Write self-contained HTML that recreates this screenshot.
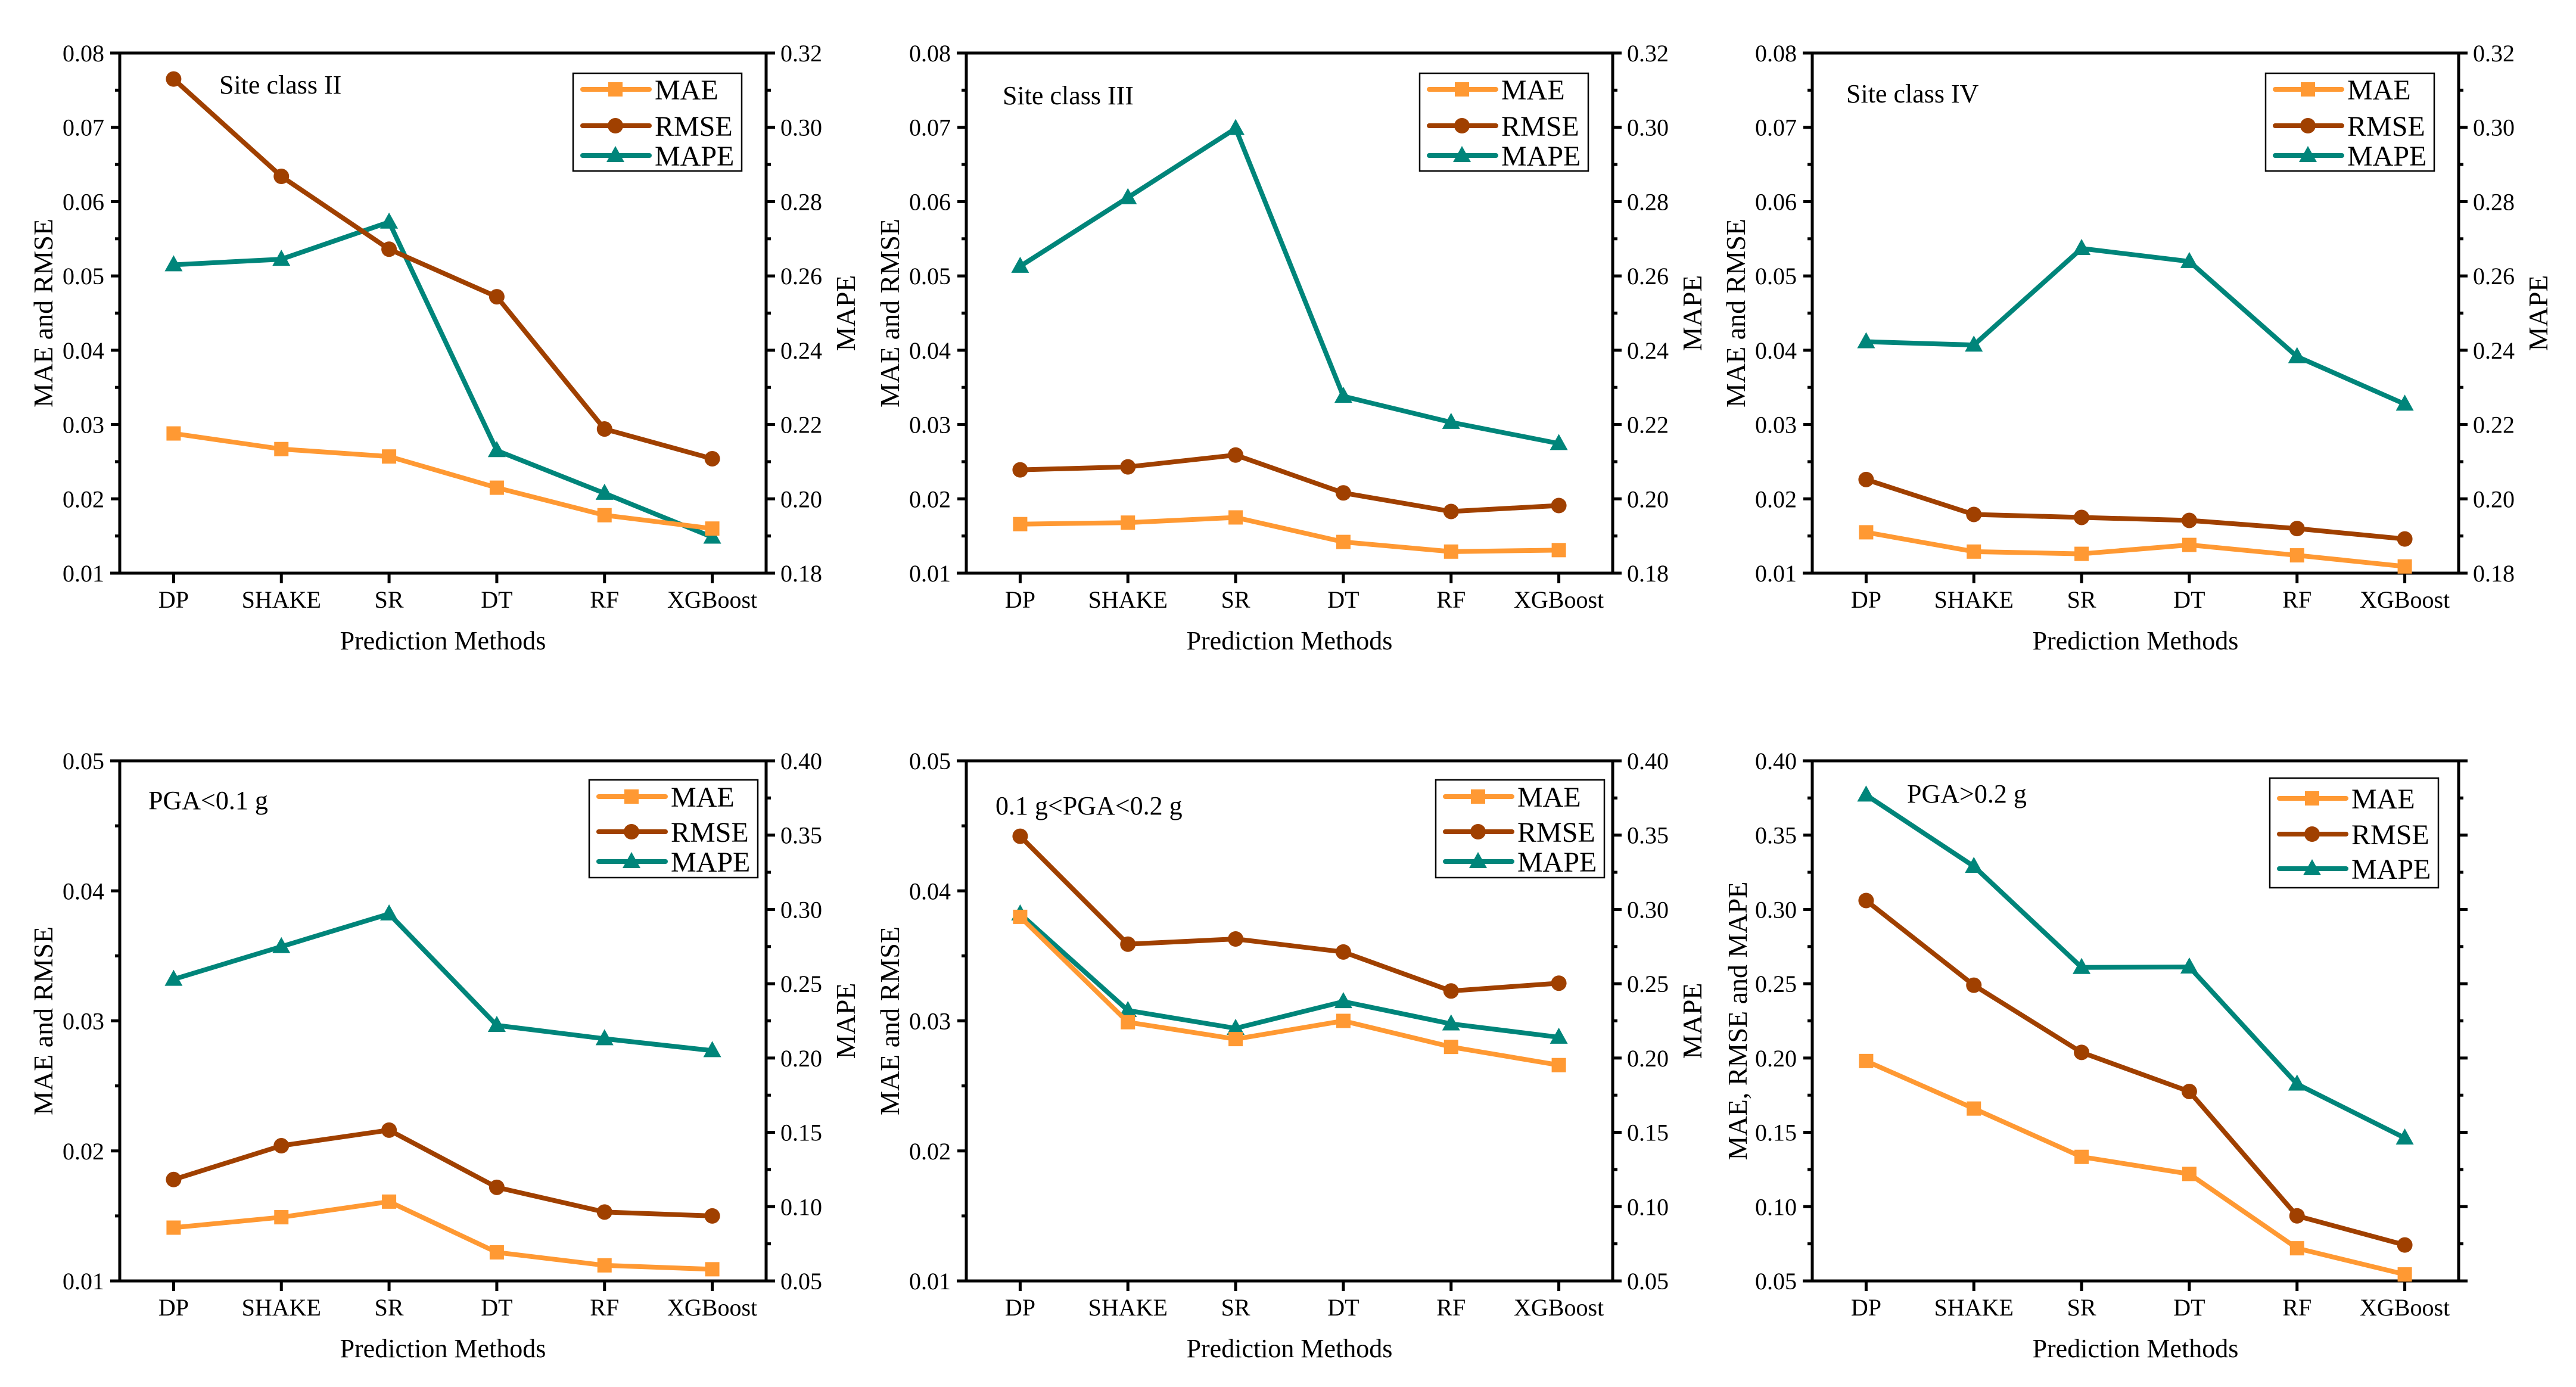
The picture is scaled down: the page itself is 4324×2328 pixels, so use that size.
<!DOCTYPE html>
<html><head><meta charset="utf-8"><title>Prediction method error metrics</title>
<style>html,body{margin:0;padding:0;background:#fff}svg{display:block}text{font-family:"Liberation Serif",serif;fill:#000}</style>
</head><body>
<svg id="fig" width="4324" height="2328" viewBox="0 0 4324 2328" xmlns="http://www.w3.org/2000/svg"></svg>
<script>
const categories = ["DP","SHAKE","SR","DT","RF","XGBoost"];
// Site class II
const p1MAE  = [0.0288,0.0267,0.0257,0.0215,0.0178,0.0160];
const p1RMSE = [0.0765,0.0634,0.0536,0.0472,0.0294,0.0254];
const p1MAPE = [0.263,0.2645,0.2745,0.213,0.2015,0.1897];
// Site class III
const p2MAE  = [0.0166,0.0168,0.0175,0.0142,0.0129,0.0131];
const p2RMSE = [0.0239,0.0243,0.0259,0.0208,0.0183,0.0191];
const p2MAPE = [0.2626,0.2811,0.2997,0.2276,0.2206,0.2149];
// Site class IV
const p3MAE  = [0.0155,0.0129,0.0126,0.0138,0.0124,0.0109];
const p3RMSE = [0.0226,0.0179,0.0175,0.0171,0.0160,0.0146];
const p3MAPE = [0.2423,0.2414,0.2674,0.2639,0.2383,0.2255];
// PGA<0.1 g
const p4MAE  = [0.0141,0.0149,0.0161,0.0122,0.0112,0.0109];
const p4RMSE = [0.0178,0.0204,0.0216,0.0172,0.0153,0.0150];
const p4MAPE = [0.253,0.275,0.297,0.222,0.213,0.205];
// 0.1 g<PGA<0.2 g
const p5MAE  = [0.0380,0.0299,0.0286,0.0300,0.0280,0.0266];
const p5RMSE = [0.0442,0.0359,0.0363,0.0353,0.0323,0.0329];
const p5MAPE = [0.297,0.232,0.220,0.238,0.223,0.214];
// PGA>0.2 g (single axis)
const p6MAE  = [0.198,0.166,0.1335,0.122,0.072,0.0544];
const p6RMSE = [0.306,0.249,0.2038,0.1775,0.0938,0.0742];
const p6MAPE = [0.377,0.329,0.261,0.2613,0.1825,0.1462];

const ticksA = ["0.01","0.02","0.03","0.04","0.05","0.06","0.07","0.08"];
const ticksB = ["0.18","0.20","0.22","0.24","0.26","0.28","0.30","0.32"];
const ticksC = ["0.01","0.02","0.03","0.04","0.05"];
const ticksD = ["0.05","0.10","0.15","0.20","0.25","0.30","0.35","0.40"];

const NS="http://www.w3.org/2000/svg";
const svg=document.getElementById('fig');
const C_MAE="#FF9933", C_RMSE="#A04000", C_MAPE="#00857A";
function el(tag,attrs,parent){const e=document.createElementNS(NS,tag);for(const k in attrs)e.setAttribute(k,attrs[k]);(parent||svg).appendChild(e);return e;}

const panels=[
 {left:201,top:89,title:"Site class II",tx:167,ty:68,L:ticksA,R:ticksB,d:[p1MAE,p1RMSE,p1MAPE],ly:"MAE and RMSE",ry:"MAPE",leg:{r:41,t:34,b:198,e:[61,122,172]}},
 {left:1622,top:89,title:"Site class III",tx:61,ty:86,L:ticksA,R:ticksB,d:[p2MAE,p2RMSE,p2MAPE],ly:"MAE and RMSE",ry:"MAPE",leg:{r:41,t:34,b:198,e:[61,122,172]}},
 {left:3042,top:89,title:"Site class IV",tx:57,ty:83,L:ticksA,R:ticksB,d:[p3MAE,p3RMSE,p3MAPE],ly:"MAE and RMSE",ry:"MAPE",leg:{r:41,t:34,b:198,e:[61,122,172]}},
 {left:201,top:1277,title:"PGA<0.1 g",tx:48,ty:81,L:ticksC,R:ticksD,d:[p4MAE,p4RMSE,p4MAPE],ly:"MAE and RMSE",ry:"MAPE",leg:{r:14,t:32,b:196,e:[60,119,169]}},
 {left:1622,top:1277,title:"0.1 g<PGA<0.2 g",tx:49,ty:90,L:ticksC,R:ticksD,d:[p5MAE,p5RMSE,p5MAPE],ly:"MAE and RMSE",ry:"MAPE",leg:{r:14,t:32,b:196,e:[60,119,169]}},
 {left:3042,top:1277,title:"PGA>0.2 g",tx:159,ty:70,L:ticksD,R:null,d:[p6MAE,p6RMSE,p6MAPE],ly:"MAE, RMSE and MAPE",ry:null,single:true,leg:{r:34,t:29,b:213,e:[63,123,181]}}
];
const W=1085,H=873;

function marker(g,kind,x,y,color){
  let m;
  if(kind===0) m=el('rect',{x:x-12,y:y-12,width:24,height:24,fill:color},g);
  else if(kind===1) m=el('circle',{cx:x,cy:y,r:13,fill:color},g);
  else m=el('polygon',{points:`${x},${y-16} ${x+15},${y+11} ${x-15},${y+11}`,fill:color},g);
  return m;
}

panels.forEach((p,pi)=>{
  const g=el('g',{});
  
  
  const L=p.left,T=p.top,Rt=L+W,B=T+H;
  const lmin=+p.L[0],lmax=+p.L[p.L.length-1];
  const yL=v=>B-(v-lmin)/(lmax-lmin)*H;
  let yR=yL;
  if(p.R){const rmin=+p.R[0],rmax=+p.R[p.R.length-1];yR=v=>B-(v-rmin)/(rmax-rmin)*H;}
  const xC=i=>L+W/6*(i+0.5);
  // frame
  const fr=el('path',{d:`M${L-16},${T} H${Rt+14} M${L},${T-2} V${B+2} M${Rt},${T-2} V${B+2} M${L-16},${B} H${Rt+14}`,stroke:'#000','stroke-width':5,fill:'none'},g);
  
  // left ticks
  const n=p.L.length-1;
  for(let i=0;i<=n;i++){
    const y=T+H*(n-i)/n;
    el('line',{x1:L-15,x2:L,y1:y,y2:y,stroke:'#000','stroke-width':5},g);
    if(i<n){const ym=y-H/n/2;el('line',{x1:L-8,x2:L,y1:ym,y2:ym,stroke:'#000','stroke-width':5},g);}
    const t=el('text',{x:L-26,y:y+14,'font-size':40,'text-anchor':'end'},g);t.textContent=p.L[i];
    
  }
  // right ticks
  const rl=p.R||p.L, m=rl.length-1;
  for(let i=0;i<=m;i++){
    const y=T+H*(m-i)/m;
    el('line',{x1:Rt,x2:Rt+15,y1:y,y2:y,stroke:'#000','stroke-width':5},g);
    if(i<m){const ym=y-H/m/2;el('line',{x1:Rt,x2:Rt+8,y1:ym,y2:ym,stroke:'#000','stroke-width':5},g);}
    if(p.R){const t=el('text',{x:Rt+24,y:y+14,'font-size':40},g);t.textContent=p.R[i];
      }
  }
  // x ticks
  categories.forEach((c,i)=>{
    el('line',{x1:xC(i),x2:xC(i),y1:B,y2:B+17,stroke:'#000','stroke-width':5},g);
    const t=el('text',{x:xC(i),y:B+58,'font-size':40,'text-anchor':'middle'},g);t.textContent=c;
    
  });
  const xt=el('text',{x:L+W/2,y:B+128,'font-size':44,'text-anchor':'middle'},g);xt.textContent="Prediction Methods";
  
  const cy=T+H/2;
  if(p.single){
    const a=el('text',{x:0,y:0,'font-size':46,'text-anchor':'middle',transform:`translate(${L-202+16},${cy}) rotate(-90)`},g);a.textContent="MAPE";
    
    const b=el('text',{x:0,y:0,'font-size':46,'text-anchor':'middle',transform:`translate(${L-126+16},${cy}) rotate(-90)`},g);b.textContent=p.ly;
    
  } else {
    const a=el('text',{x:0,y:0,'font-size':46,'text-anchor':'middle',transform:`translate(${L-129+16},${cy}) rotate(-90)`},g);a.textContent=p.ly;
    
    const b=el('text',{x:0,y:0,'font-size':46,'text-anchor':'middle',transform:`translate(${Rt+133+16},${cy}) rotate(-90)`},g);b.textContent=p.ry;
    
  }
  const tt=el('text',{x:L+p.tx,y:T+p.ty,'font-size':44},g);tt.textContent=p.title;
  
  // series
  const names=["MAE","RMSE","MAPE"],cols=[C_MAE,C_RMSE,C_MAPE];
  [2,1,0].forEach(k=>{
    const sc=(k===2?yR:yL);
    const pts=p.d[k].map((v,i)=>`${xC(i)},${sc(v)}`).join(' ');
    const sg=el('g',{},g);
    
    
    el('polyline',{points:pts,fill:'none',stroke:cols[k],'stroke-width':8,'stroke-linejoin':'round'},sg);
    p.d[k].forEach((v,i)=>{const mk=marker(sg,k,xC(i),sc(v),cols[k]);
      
      });
  });
  // legend
  const lg=el('g',{},g);
  
  
  const bw=283,bx=Rt-p.leg.r-bw;
  el('rect',{x:bx,y:T+p.leg.t,width:bw,height:p.leg.b-p.leg.t,fill:'#fff',stroke:'#000','stroke-width':2.5},lg);
  names.forEach((nm,k)=>{
    const y=T+p.leg.e[k];
    const eg=el('g',{},lg);
    
    
    el('line',{x1:bx+16,x2:bx+128,y1:y,y2:y,stroke:cols[k],'stroke-width':8,'stroke-linecap':'round'},eg);
    marker(eg,k,bx+71,y,cols[k]);
    const t=el('text',{x:bx+137,y:y+17,'font-size':48},eg);t.textContent=nm;
  });
});
</script>
</body></html>
